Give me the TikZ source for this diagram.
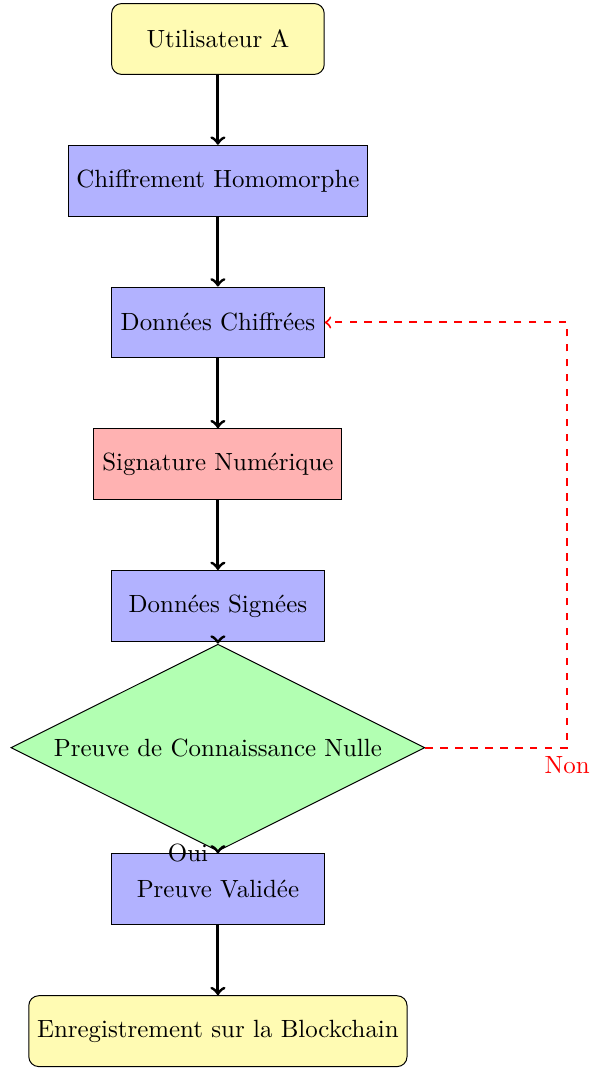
\documentclass[tikz,border=0pt]{standalone}
\usepackage{tikz}
\usetikzlibrary{shapes.geometric}
\tikzset{startstop/.style={rectangle, rounded corners, draw, fill=yellow!30, minimum width=3cm, minimum height=1cm}}
\tikzset{process/.style={rectangle, draw, fill=blue!30, minimum width=3cm, minimum height=1cm}}
\tikzset{signbox/.style={rectangle, draw, fill=red!30, minimum width=3cm, minimum height=1cm}}
\tikzset{decision/.style={diamond, aspect=2, draw, fill=green!30}}
\tikzset{arrow/.style={very thick, ->}}

\begin{document}
\begin{tikzpicture}
    \useasboundingbox(-3.075, 0.55)rectangle(5.247, -14.52);
    \node[startstop](user) at (0, 0){Utilisateur A};
    \node[process](homenc) at (0, -2){Chiffrement Homomorphe};
    \node[process](cipher) at (0, -4){Données Chiffrées};
    \node[signbox](sig) at (0, -6){Signature Numérique};
    \node[process](signed) at (0, -8){Données Signées};
    \node[decision](zkp) at (0, -10){Preuve de Connaissance Nulle};
    \node[process](valid) at (0, -12){Preuve Validée};
    \node[startstop](chain) at (0, -14){Enregistrement sur la Blockchain};
    \draw[arrow](user)--(homenc);
    \draw[arrow](homenc)--(cipher);
    \draw[arrow](cipher)--(sig);
    \draw[arrow](sig)--(signed);
    \draw[arrow](signed)--(zkp);
    \draw[arrow](zkp)--node[left]{Oui}(valid);
    \draw[arrow](valid)--(chain);
    % retour si la preuve echoue
    \draw[thick, ->, red, dashed](zkp.east)--++(2, 0)node[below]{Non}|-(cipher.east);
\end{tikzpicture}
\end{document}
